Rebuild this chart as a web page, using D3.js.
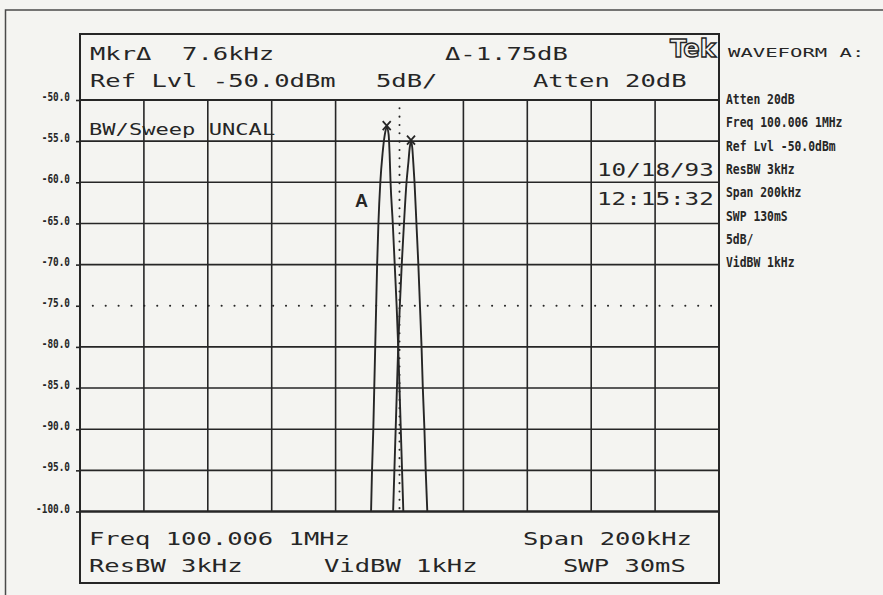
<!DOCTYPE html>
<html>
<head>
<meta charset="utf-8">
<script src="https://cdn.jsdelivr.net/npm/d3@7"></script>
<style>
  html, body { margin: 0; padding: 0; background: #f4f4f1; }
  svg { display: block; }
  text { white-space: pre; }
</style>
</head>
<body>
<svg id="chart" width="883" height="595"></svg>
<script>
// Amplitude axis: reference level -50 dBm, 5 dB per division
const levelTicks = [-50, -55, -60, -65, -70, -75, -80, -85, -90, -95, -100];
const levelTickLabels = ["-50.0", "-55.0", "-60.0", "-65.0", "-70.0", "-75.0", "-80.0", "-85.0", "-90.0", "-95.0", "-100.0"];

// Frequency axis: offset from centre in kHz, 200 kHz span, 20 kHz per division
const freqDivisions = [-100, -80, -60, -40, -20, 0, 20, 40, 60, 80, 100];

// Trace A (left carrier): frequency offset (kHz) and level (dBm)
const traceAFreq  = [-8.9, -8.6, -8.2, -7.9, -7.6, -7.3, -7.0, -6.6, -6.0, -5.3, -4.6, -4.0, -3.4, -3.1, -2.8, -2.1, -1.5, -0.9, -0.4, 0.0, 0.4, 0.8, 1.2];
const traceALevel = [-100, -95, -90, -85, -80, -75, -70, -65, -60, -56.5, -54.2, -53.3, -54.2, -56.5, -60, -65, -70, -75, -80, -85, -90, -95, -100];

// Trace B (right carrier)
const traceBFreq  = [-2.0, -1.6, -1.2, -0.8, -0.4, 0.1, 0.7, 1.4, 2.2, 2.8, 3.2, 3.6, 4.0, 4.3, 4.7, 5.3, 5.9, 6.4, 6.9, 7.3, 7.8, 8.2, 8.7];
const traceBLevel = [-100, -95, -90, -85, -80, -75, -70, -65, -60, -57.5, -55.8, -55.05, -55.8, -57.5, -60, -65, -70, -75, -80, -85, -90, -95, -100];

// On-screen readouts
const headerRow1 = ["MkrΔ  7.6kHz", "Δ-1.75dB"];
const headerRow2 = ["Ref Lvl -50.0dBm", "5dB/", "Atten 20dB"];
const footerRow1 = ["Freq 100.006 1MHz", "Span 200kHz"];
const footerRow2 = ["ResBW 3kHz", "VidBW 1kHz", "SWP 30mS"];
const statusText = "BW/Sweep UNCAL";
const dateStamp = ["10/18/93", "12:15:32"];
const traceLabel = "A";
const waveformTitle = "WAVEFORM A:";
const settingsList = ["Atten 20dB", "Freq 100.006 1MHz", "Ref Lvl -50.0dBm", "ResBW 3kHz", "Span 200kHz", "SWP 130mS", "5dB/", "VidBW 1kHz"];

const ink = "#262626";
const paper = "#f4f4f1";
const svg = d3.select("#chart");

const frameLeft = 80, frameRight = 719, frameTop = 34, frameBottom = 583;
const x = d3.scaleLinear().domain([-100, 100]).range([frameLeft, frameRight]);
const y = d3.scaleLinear().domain([-100, -50]).range([511.5, 100]);

const dotStepX = (x(20) - x(0)) / 5;   // 5 dots per horizontal division
const dotStepY = (y(-95) - y(-90)) / 5; // 5 dots per vertical division

// page border
svg.append("path")
  .attr("d", "M5.5,595 L5.5,10 L883,10")
  .attr("fill", "none").attr("stroke", "#4a4a4a").attr("stroke-width", 1.5);

// instrument frame
svg.append("rect")
  .attr("x", frameLeft).attr("y", frameTop)
  .attr("width", frameRight - frameLeft).attr("height", frameBottom - frameTop)
  .attr("fill", "none").attr("stroke", ink).attr("stroke-width", 2);

// graticule: vertical divisions (centre line dotted)
const innerDivs = freqDivisions.slice(1, -1);
svg.append("g").selectAll("line")
  .data(innerDivs)
  .join("line")
  .attr("x1", d => x(d)).attr("x2", d => x(d))
  .attr("y1", y(-50)).attr("y2", y(-100))
  .attr("stroke", ink)
  .attr("stroke-width", d => d === 0 ? 2 : 1.6)
  .attr("stroke-linecap", d => d === 0 ? "round" : "butt")
  .attr("stroke-dasharray", d => d === 0 ? `0.1 ${dotStepY}` : null)
  .attr("stroke-dashoffset", d => d === 0 ? -dotStepY : null);

// graticule: horizontal divisions (centre line dotted)
svg.append("g").selectAll("line")
  .data(levelTicks)
  .join("line")
  .attr("x1", frameLeft).attr("x2", frameRight)
  .attr("y1", d => y(d)).attr("y2", d => y(d))
  .attr("stroke", ink)
  .attr("stroke-width", d => d === -100 ? 2.6 : (d === -50 || d === -75 ? 2 : 1.6))
  .attr("stroke-linecap", d => d === -75 ? "round" : "butt")
  .attr("stroke-dasharray", d => d === -75 ? `0.1 ${dotStepX}` : null)
  .attr("stroke-dashoffset", d => d === -75 ? -dotStepX : null);

// level axis labels with short ticks
const yAxis = d3.axisLeft(y)
  .tickValues(levelTicks)
  .tickFormat((d, i) => levelTickLabels[i])
  .tickSize(4)
  .tickPadding(6);
const ag = svg.append("g").attr("transform", `translate(${frameLeft},0)`).call(yAxis);
ag.select(".domain").remove();
ag.selectAll(".tick line").attr("stroke", ink).attr("stroke-width", 1.6);
ag.selectAll(".tick text")
  .attr("dy", "0.05em")
  .attr("fill", ink)
  .style("font-family", "'DejaVu Sans Mono', monospace")
  .style("font-weight", "bold")
  .style("font-size", "11.5px")
  .attr("textLength", (d, i) => levelTickLabels[i].length * 5.65)
  .attr("lengthAdjust", "spacingAndGlyphs");

// traces, clipped to the graticule
svg.append("clipPath").attr("id", "grat")
  .append("rect")
  .attr("x", frameLeft).attr("y", y(-50))
  .attr("width", frameRight - frameLeft).attr("height", y(-100) - y(-50));

const line = d3.line().x(d => x(d.f)).y(d => y(d.db)).curve(d3.curveMonotoneX);
const traces = [
  traceAFreq.map((f, i) => ({ f, db: traceALevel[i] })),
  traceBFreq.map((f, i) => ({ f, db: traceBLevel[i] }))
];
svg.append("g").attr("clip-path", "url(#grat)")
  .selectAll("path")
  .data(traces)
  .join("path")
  .attr("d", line)
  .attr("fill", "none")
  .attr("stroke", ink)
  .attr("stroke-width", 1.9)
  .attr("stroke-linejoin", "round");

// peak markers (X) on each trace maximum
const peaks = traces.map(t => t[d3.greatestIndex(t, d => d.db)]);
svg.append("g").selectAll("path")
  .data(peaks)
  .join("path")
  .attr("d", d => {
    const cx = x(d.f), cy = y(d.db) - 1.5;
    return `M${cx - 4},${cy - 4.5} L${cx + 4},${cy + 4.5} M${cx + 4},${cy - 4.5} L${cx - 4},${cy + 4.5}`;
  })
  .attr("stroke", ink).attr("stroke-width", 1.8).attr("fill", "none");

// monospaced readout text, stretched to a fixed character cell
function readout(str, px, baseline, cell, size, weight) {
  return svg.append("text")
    .attr("x", px).attr("y", baseline)
    .attr("fill", ink)
    .attr("xml:space", "preserve")
    .style("font-family", "'DejaVu Sans Mono', monospace")
    .style("font-size", size + "px")
    .style("font-weight", weight || "normal")
    .attr("textLength", str.length * cell)
    .attr("lengthAdjust", "spacingAndGlyphs")
    .text(str);
}

const cell = 15.35;
readout(headerRow1[0], 90, 60, cell, 17.5);
readout(headerRow1[1], 445, 60, cell, 17.5);
readout(headerRow2[0], 90, 87, cell, 17.5);
readout(headerRow2[1], 376, 87, cell, 17.5);
readout(headerRow2[2], 533, 87, cell, 17.5);

readout(statusText, 89, 135, 13.3, 16.5);
readout(dateStamp[0], 597, 176, 14.6, 18);
readout(dateStamp[1], 597, 205, 14.6, 18);

readout(footerRow1[0], 89, 545, cell, 17);
readout(footerRow1[1], 523, 545, cell, 17);
readout(footerRow2[0], 89, 572, cell, 17);
readout(footerRow2[1], 324, 572, cell, 17);
readout(footerRow2[2], 563, 572, cell, 17);

// trace identifier
svg.append("text")
  .attr("x", 361.5).attr("y", 207)
  .attr("text-anchor", "middle")
  .attr("fill", ink)
  .style("font-family", "'Liberation Sans', Arial, sans-serif")
  .style("font-weight", "bold")
  .style("font-size", "18px")
  .text(traceLabel);

// maker logo in outline lettering
svg.append("text")
  .attr("x", 670).attr("y", 57)
  .attr("fill", paper)
  .attr("stroke", ink)
  .attr("stroke-width", 1.4)
  .style("font-family", "'DejaVu Sans', sans-serif")
  .style("font-weight", "bold")
  .style("font-size", "25px")
  .attr("textLength", 46)
  .attr("lengthAdjust", "spacingAndGlyphs")
  .text("Tek");

// settings panel beside the screen
readout(waveformTitle, 728, 57, 12.4, 12.5);
svg.append("g").selectAll("text")
  .data(settingsList)
  .join("text")
  .attr("x", 726)
  .attr("y", (d, i) => 104 + i * 23.3)
  .attr("fill", ink)
  .style("font-family", "'DejaVu Sans Mono', monospace")
  .style("font-size", "13.5px")
  .style("font-weight", "bold")
  .attr("textLength", d => d.length * 6.85)
  .attr("lengthAdjust", "spacingAndGlyphs")
  .text(d => d);
</script>
</body>
</html>
